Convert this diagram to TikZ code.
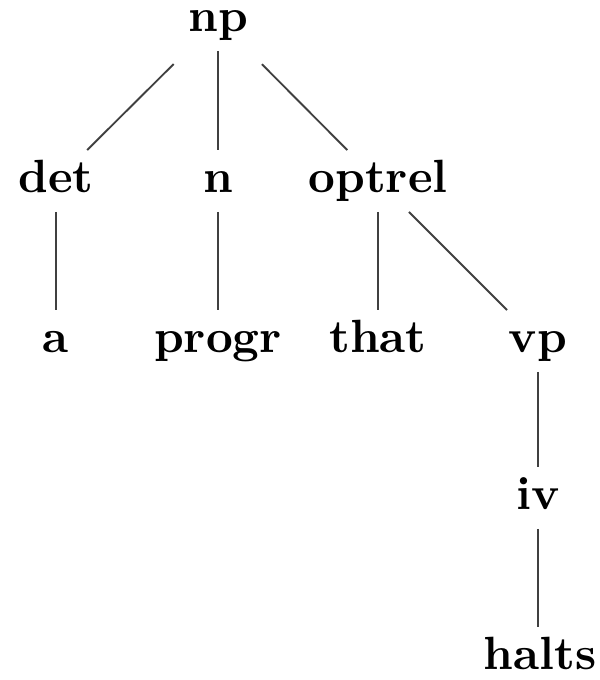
\documentclass[tikz,border=0pt]{standalone}
\begin{document}
\begin{tikzpicture}[x=0.2145pt,y=-0.2145pt,
  lbl/.style={font=\bfseries, text height=6.94pt, text depth=1.94pt, inner xsep=1pt, inner ysep=2pt},
  edge/.style={draw=black!75, line width=0.4pt}]
\useasboundingbox (0,0) rectangle (600,680);
\node[lbl] (np) at (218,20) {np};
\node[lbl] (det) at (56,181) {det};
\node[lbl] (n) at (218,181) {n};
\node[lbl] (optrel) at (378,181) {optrel};
\node[lbl] (a) at (56,341) {a};
\node[lbl] (progr) at (218,341) {progr};
\node[lbl] (that) at (378,341) {that};
\node[lbl] (vp) at (538,341) {vp};
\node[lbl] (iv) at (538,498) {iv};
\node[lbl] (halts) at (540,658) {halts};
\draw[edge, shorten <=4pt] (np) -- (det);
\draw[edge] (np) -- (n);
\draw[edge, shorten <=4pt] (np) -- (optrel);
\draw[edge] (det) -- (a);
\draw[edge] (n) -- (progr);
\draw[edge] (optrel) -- (that);
\draw[edge] (optrel) -- (vp);
\draw[edge] (vp) -- (iv);
\draw[edge] (iv.south) -- (iv.south |- halts.north);
\end{tikzpicture}
\end{document}
